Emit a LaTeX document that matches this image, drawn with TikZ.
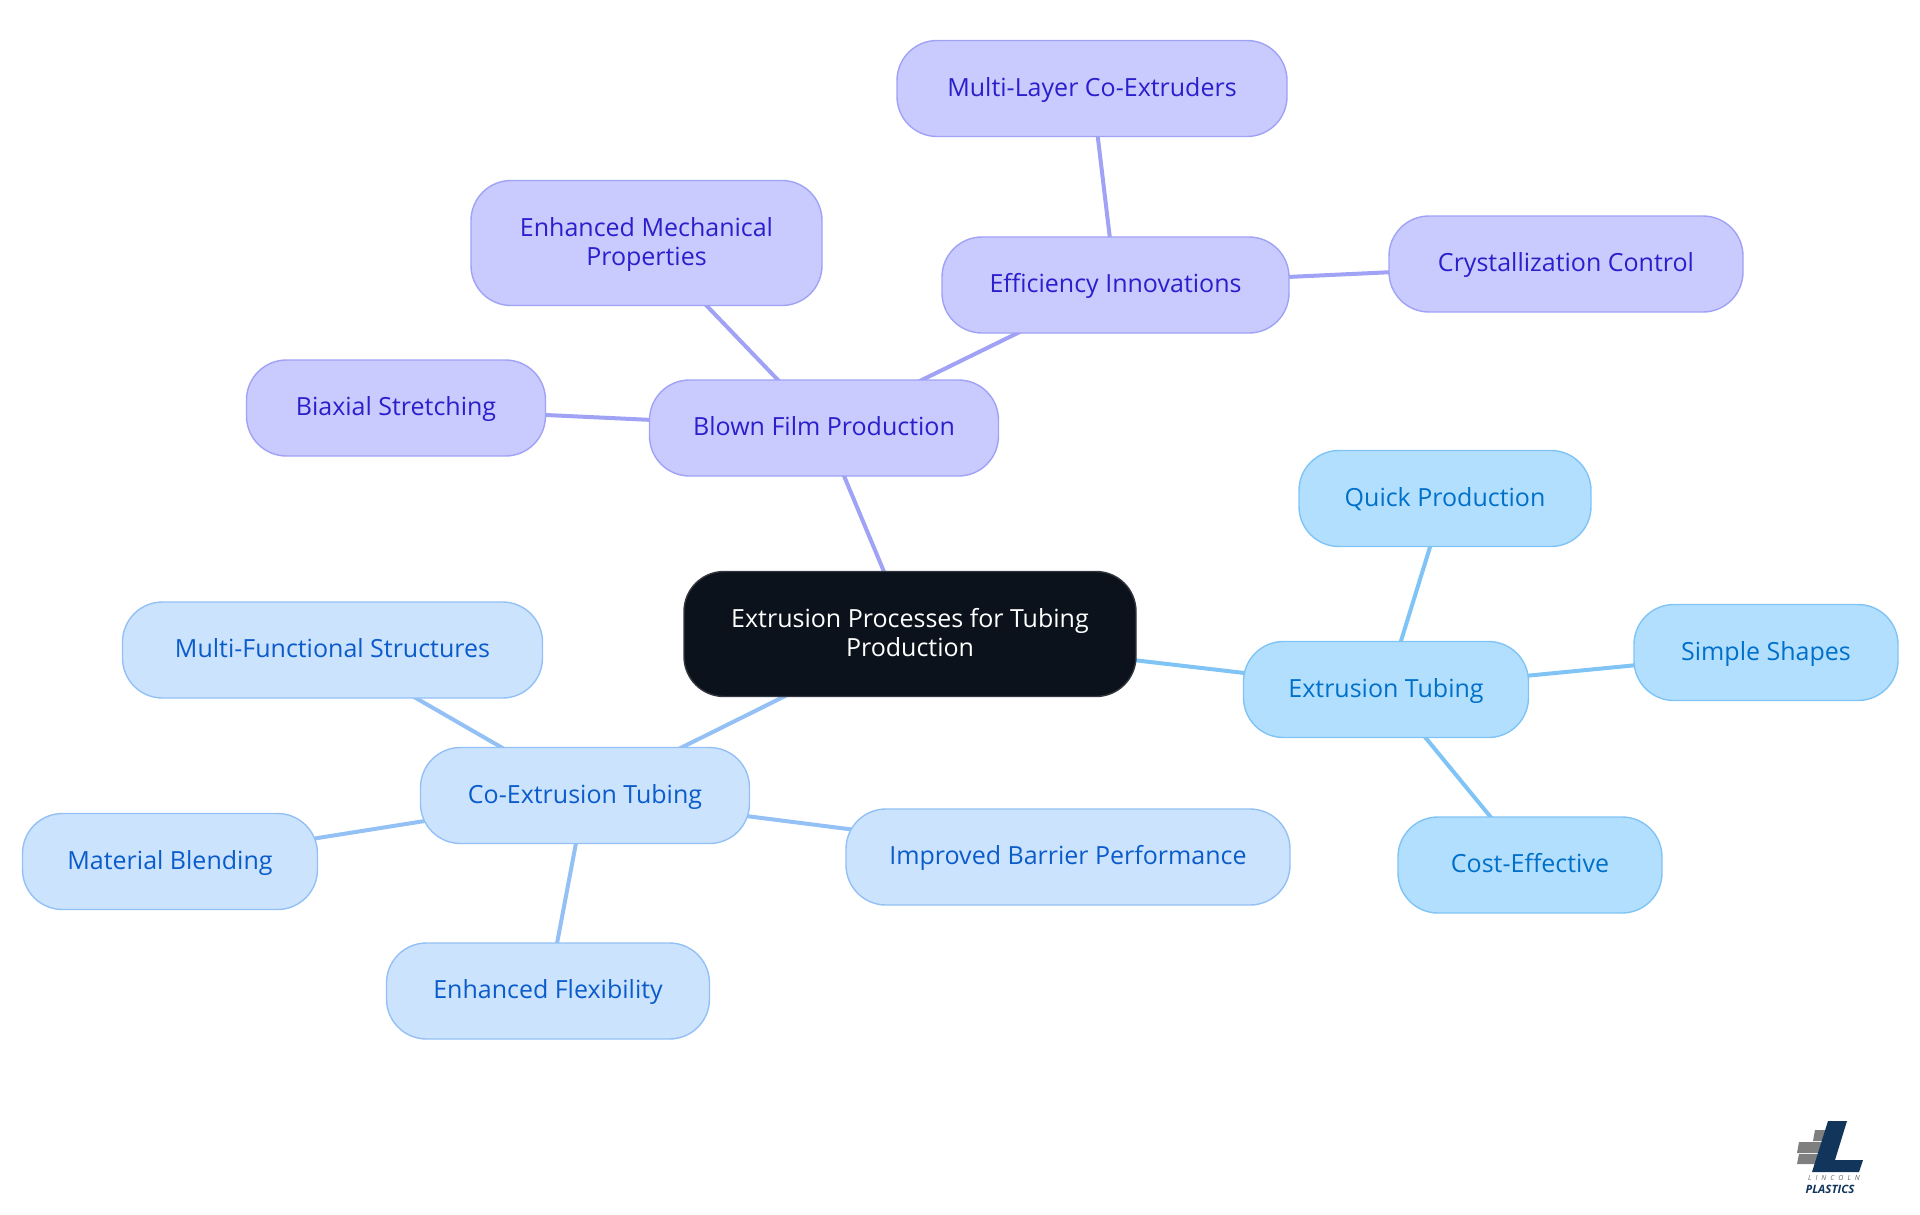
\documentclass[tikz,border=0pt]{standalone}
\usepackage{fontspec}
\setmainfont{Open Sans}
\usepackage{tikz}
\usetikzlibrary{positioning}
\pgfdeclarelayer{back}
\pgfsetlayers{back,main}
\definecolor{rootfill}{HTML}{0B121B}
\definecolor{rootline}{HTML}{33373D}
\definecolor{tubefill}{HTML}{B3DFFF}
\definecolor{tubeline}{HTML}{7FC4F5}
\definecolor{tubetext}{HTML}{0070C9}
\definecolor{coexfill}{HTML}{CCE3FD}
\definecolor{coexline}{HTML}{93C0F5}
\definecolor{coextext}{HTML}{0B5CCB}
\definecolor{blownfill}{HTML}{C9CBFF}
\definecolor{blownline}{HTML}{9FA2F5}
\definecolor{blowntext}{HTML}{2A1FCB}
\definecolor{logoblue}{HTML}{12355B}
\definecolor{logogray}{HTML}{7F7F7F}
\tikzset{
  x=1pt, y=-1pt,
  pill/.style={draw, rounded corners=40pt, line width=1.4pt, inner sep=0pt, align=center,
    minimum height=96pt, font=\fontsize{25}{29}\selectfont},
  oneline/.style={text height=20pt, text depth=5pt},
  twoline/.style={text height=50pt, text depth=6pt, minimum height=125pt},
  rootbox/.style={pill, twoline, fill=rootfill, draw=rootline, text=white},
  tubebox/.style={pill, oneline, fill=tubefill, draw=tubeline, text=tubetext},
  coexbox/.style={pill, oneline, fill=coexfill, draw=coexline, text=coextext},
  blownbox/.style={pill, oneline, fill=blownfill, draw=blownline, text=blowntext},
  blowntwo/.style={pill, twoline, fill=blownfill, draw=blownline, text=blowntext},
  tubelink/.style={tubeline, line width=4pt},
  coexlink/.style={coexline, line width=4pt},
  blownlink/.style={blownline, line width=4pt},
}
\begin{document}
\begin{tikzpicture}
\useasboundingbox (0,0) rectangle (1920,1215);
\node [rootbox, minimum width=452pt] (root) at (910,634) {Extrusion Processes for Tubing\\Production};
\node [tubebox, minimum width=285pt] (tube) at (1386,689.5) {Extrusion Tubing};
\node [tubebox, minimum width=292pt] (quick) at (1445,498.5) {Quick Production};
\node [tubebox, minimum width=264pt] (simple) at (1766,652.5) {Simple Shapes};
\node [tubebox, minimum width=264pt] (cost) at (1530,865) {Cost-Effective};
\node [coexbox, minimum width=329pt] (coex) at (585,795.5) {Co-Extrusion Tubing};
\node [coexbox, minimum width=420pt] (multi) at (332.5,650) {Multi-Functional Structures};
\node [coexbox, minimum width=295pt] (blend) at (170,861.5) {Material Blending};
\node [coexbox, minimum width=323pt] (flex) at (548,991) {Enhanced Flexibility};
\node [coexbox, minimum width=444pt] (barrier) at (1068,857) {Improved Barrier Performance};
\node [blownbox, minimum width=349pt] (blown) at (824,428) {Blown Film Production};
\node [blownbox, minimum width=299pt] (biax) at (396,408) {Biaxial Stretching};
\node [blowntwo, minimum width=351pt] (mech) at (646.5,243) {Enhanced Mechanical\\Properties};
\node [blownbox, minimum width=347pt] (effic) at (1115.5,285) {Efficiency Innovations};
\node [blownbox, minimum width=390pt] (layer) at (1092,88.5) {Multi-Layer Co-Extruders};
\node [blownbox, minimum width=354pt] (cryst) at (1566,264) {Crystallization Control};
\begin{pgfonlayer}{back}
\draw [tubelink] (root.center) -- (tube.center);
\draw [tubelink] (tube.center) -- (quick.center);
\draw [tubelink] (tube.center) -- (simple.center);
\draw [tubelink] (tube.center) -- (cost.center);
\draw [coexlink] (root.center) -- (coex.center);
\draw [coexlink] (coex.center) -- (multi.center);
\draw [coexlink] (coex.center) -- (blend.center);
\draw [coexlink] (coex.center) -- (flex.center);
\draw [coexlink] (coex.center) -- (barrier.center);
\draw [blownlink] (root.center) -- (blown.center);
\draw [blownlink] (blown.center) -- (biax.center);
\draw [blownlink] (blown.center) -- (mech.center);
\draw [blownlink] (blown.center) -- (effic.center);
\draw [blownlink] (effic.center) -- (layer.center);
\draw [blownlink] (effic.center) -- (cryst.center);
\end{pgfonlayer}
\fill [logogray] (1815,1130) -- (1833,1130) -- (1830,1141) -- (1813,1141) -- cycle;
\fill [logogray] (1799,1142) -- (1833,1142) -- (1829,1153) -- (1797,1153) -- cycle;
\fill [logogray] (1799,1154) -- (1824,1154) -- (1820,1164) -- (1797,1164) -- cycle;
\fill [logoblue] (1828,1121) -- (1847,1121) -- (1835,1160) -- (1863,1160) -- (1859,1172) -- (1812,1172) -- cycle;
\node [inner sep=0pt, text=black!60, font=\fontsize{7}{8}\itshape\selectfont] (lincoln) at (1834,1178) {L\hspace{4pt}I\hspace{4pt}N\hspace{4pt}C\hspace{4pt}O\hspace{4pt}L\hspace{4pt}N};
\node [inner sep=0pt, text=logoblue, font=\fontsize{11.5}{12}\bfseries\itshape\selectfont] (plastics) at (1830,1189) {PLASTICS};
\end{tikzpicture}
\end{document}
